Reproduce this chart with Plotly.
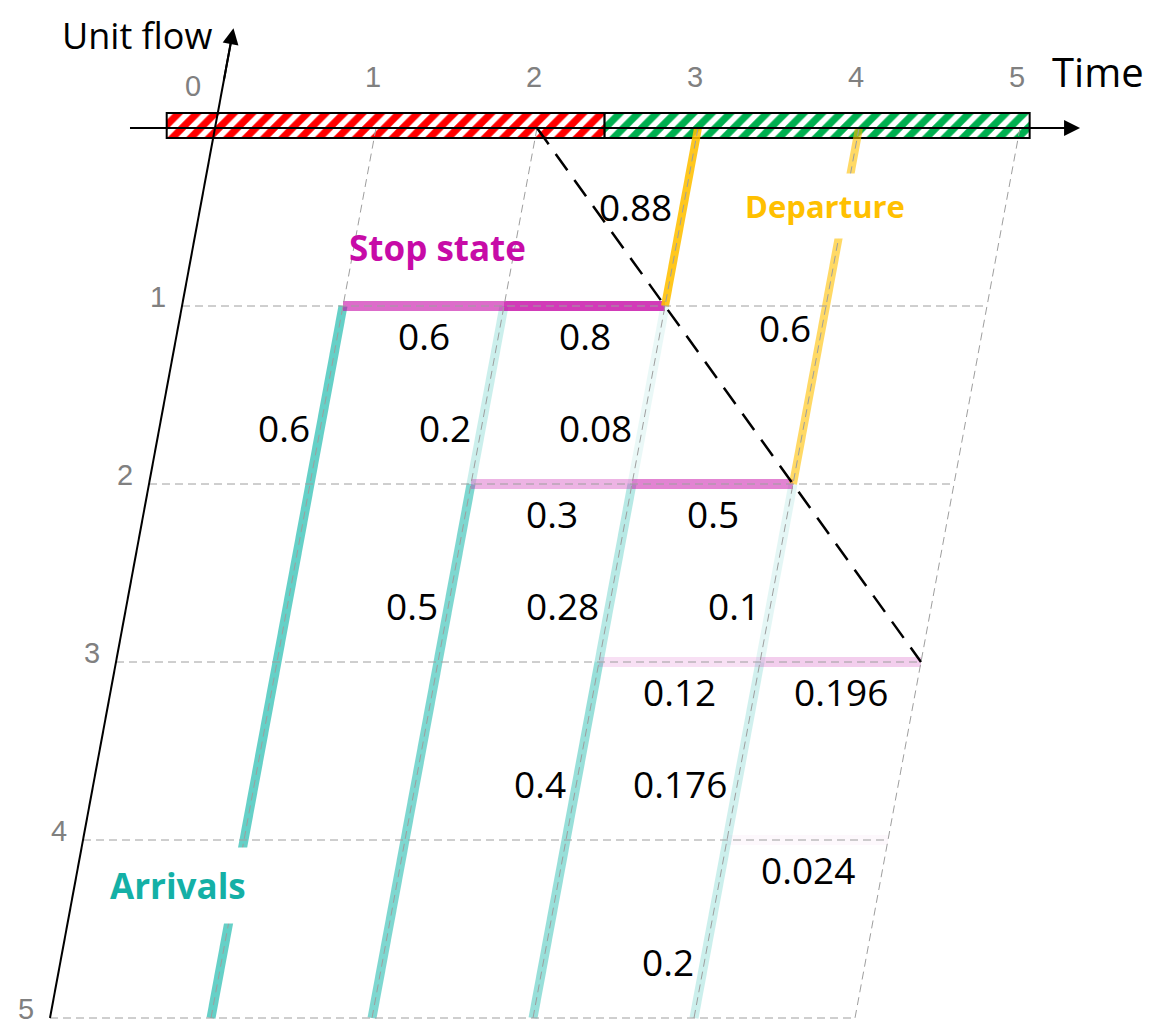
import plotly.graph_objects as go

# ---------------- data ----------------
TIME_TICKS = [0, 1, 2, 3, 4, 5]
FLOW_TICKS = [1, 2, 3, 4, 5]

# arrivals: vertical (constant-time) segments
ARR_TIME = [1, 2, 2, 3, 3, 3, 4, 4, 4]
ARR_U0 = [1, 1, 2, 1, 2, 3, 2, 3, 4]
ARR_U1 = [5, 2, 5, 2, 3, 5, 3, 4, 5]
ARR_PROB = [0.6, 0.2, 0.5, 0.08, 0.28, 0.4, 0.1, 0.176, 0.2]

# stop state: horizontal (constant unit-flow) segments
STOP_U = [1, 1, 2, 2, 3, 3, 4]
STOP_T0 = [1, 2, 2, 3, 3, 4, 4]
STOP_T1 = [2, 3, 3, 4, 4, 5, 5]
STOP_PROB = [0.6, 0.8, 0.3, 0.5, 0.12, 0.196, 0.024]

# departures: from (time, unit) back up to unit 0
DEP_TIME = [3, 4]
DEP_U = [1, 2]
DEP_PROB = [0.88, 0.6]

# boundary (dashed diagonal)
BOUND_T = [2, 5]
BOUND_U = [0, 3]

# phase bar along the time axis
PHASE_START = [-0.3, 2.42]
PHASE_END = [2.42, 5.06]
PHASE_COLOR = ["#FF0000", "#00B050"]

# ---------------- style / geometry ----------------
W, H = 1158, 1025
OX, OY = 207, 120          # pixel origin of (t=0, u=0) inside the figure
SX, SY = 161.0, 178.0      # pixels per time unit / per unit-flow step
SKEW = 33 / SX
TEAL = "#00B1A3"
MAGENTA = "#C70BA7"
GOLD = "#FFC000"
GRID = "#9E9E9E"
NUMFONT = dict(family="Open Sans", size=37, color="black")
TICKFONT = dict(family="Liberation Sans", size=29, color="#808080")


def X(t, u):
    return t - SKEW * u


fig = go.Figure()


def seg(t0, u0, t1, u1, color, width, opacity=1.0, dash="solid"):
    fig.add_trace(go.Scatter(
        x=[X(t0, u0), X(t1, u1)], y=[u0, u1], mode="lines",
        line=dict(color=color, width=width, dash=dash),
        opacity=opacity, hoverinfo="skip", showlegend=False))


# colored segments
for t, u0, u1, p in zip(ARR_TIME, ARR_U0, ARR_U1, ARR_PROB):
    seg(t, u0, t, u1, TEAL, 9, p)
for u, t0, t1, p in zip(STOP_U, STOP_T0, STOP_T1, STOP_PROB):
    seg(t0, u, t1, u, MAGENTA, 10, p)
for t, u, p in zip(DEP_TIME, DEP_U, DEP_PROB):
    seg(t, u, t, 0, GOLD, 8, p)

# grid
for u in FLOW_TICKS:
    seg(TIME_TICKS[0], u, TIME_TICKS[-1], u, GRID, 1, 1, "8px,5px")
for t in TIME_TICKS[1:]:
    seg(t, 0, t, FLOW_TICKS[-1], GRID, 1, 1, "8px,5px")

# boundary
seg(BOUND_T[0], BOUND_U[0], BOUND_T[1], BOUND_U[1], "black", 2.5, 1, "20px,12px")

# axes lines
T_AX0, T_AX1 = -0.528, 5.373
U_TOP = -0.56
seg(T_AX0, 0, T_AX1 - 0.1, 0, "black", 2)
seg(0, FLOW_TICKS[-1], 0, U_TOP * 0.85, "black", 2)

# phase bar
for s, e, c in zip(PHASE_START, PHASE_END, PHASE_COLOR):
    fig.add_trace(go.Bar(
        orientation="h", y=[-0.014], x=[e - s], base=[s], width=0.14,
        marker=dict(color="white", line=dict(color="black", width=2),
                    pattern=dict(shape="/", fgcolor=c, bgcolor="white",
                                 size=13, solidity=0.55, fgopacity=1)),
        hoverinfo="skip", showlegend=False))

ann = []
# arrow heads
ann.append(dict(x=T_AX1, y=0, ax=T_AX1 - 0.3, ay=0, xref="x", yref="y",
                axref="x", ayref="y", showarrow=True, arrowhead=2,
                arrowsize=1.6, arrowwidth=2, arrowcolor="black", text=""))
ann.append(dict(x=X(0, U_TOP), y=U_TOP, ax=X(0, U_TOP + 0.3), ay=U_TOP + 0.3,
                xref="x", yref="y", axref="x", ayref="y", showarrow=True,
                arrowhead=2, arrowsize=1.6, arrowwidth=2, arrowcolor="black",
                text=""))

# tick labels
for t in TIME_TICKS:
    ann.append(dict(x=t, y=-0.235 if t == 0 else -0.287, text=str(t),
                    showarrow=False, font=TICKFONT,
                    xshift=-22 if t == 0 else -3))
for u in FLOW_TICKS:
    ann.append(dict(x=X(0, u), y=u, text=str(u), showarrow=False,
                    font=TICKFONT, xshift=-24, yshift=9))

# value labels
for t, u0, p in zip(ARR_TIME, ARR_U0, ARR_PROB):
    ua = u0 + 0.68
    ann.append(dict(x=X(t, ua), y=ua, text=f"{p:g}", showarrow=False,
                    xanchor="right", xshift=-9, font=NUMFONT))
for u, t0, t1, p in zip(STOP_U, STOP_T0, STOP_T1, STOP_PROB):
    ann.append(dict(x=X((t0 + t1) / 2, u), y=u, text=f"{p:g}", showarrow=False,
                    yshift=-29, font=NUMFONT))
DEP_LABEL_U = [0.44, 1.12]
for t, ua, p in zip(DEP_TIME, DEP_LABEL_U, DEP_PROB):
    ann.append(dict(x=X(t, ua), y=ua, text=f"{p:g}", showarrow=False,
                    xanchor="right", xshift=-9, font=NUMFONT))

# category labels
BOLD = "Open Sans"
ann.append(dict(x=1.379, y=0.674, text="<b>Stop state</b>", showarrow=False,
                font=dict(family=BOLD, size=35, color=MAGENTA)))
ann.append(dict(x=3.789, y=0.44, text="<b>Departure</b>", showarrow=False,
                bgcolor="white", borderpad=11,
                font=dict(family=BOLD, size=31, color=GOLD)))
ann.append(dict(x=-0.23, y=4.253, text="<b>Arrivals</b>", showarrow=False,
                bgcolor="white", borderpad=14,
                font=dict(family=BOLD, size=35, color="#14B0A6")))
ann.append(dict(x=-0.484, y=-0.52, text="Unit flow", showarrow=False,
                font=dict(family="Open Sans", size=36, color="black")))
ann.append(dict(x=5.484, y=-0.315, text="Time", showarrow=False,
                font=dict(family="Open Sans", size=40, color="black")))

fig.update_layout(
    width=W, height=H, margin=dict(l=0, r=0, t=0, b=0),
    plot_bgcolor="white", paper_bgcolor="white", barmode="overlay",
    xaxis=dict(range=[-OX / SX, (W - OX) / SX], visible=False,
               fixedrange=True),
    yaxis=dict(range=[(H - OY) / SY, -OY / SY], visible=False,
               fixedrange=True),
    annotations=ann, showlegend=False)

fig.write_html("out.html")
